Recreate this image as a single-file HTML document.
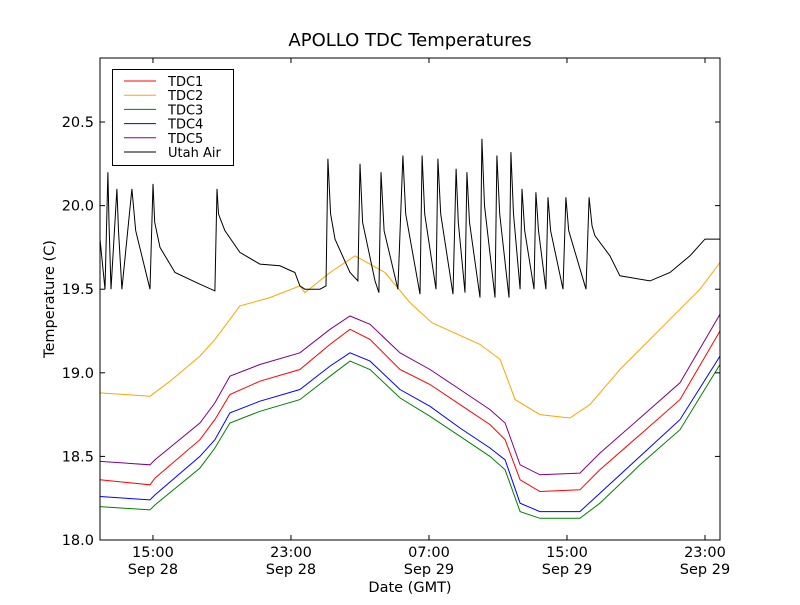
<!DOCTYPE html>
<html><head><meta charset="utf-8"><style>
body{margin:0;background:#fff}
svg text{font-family:"DejaVu Sans","Liberation Sans",sans-serif;fill:#000}
</style></head><body>
<svg id="c" width="800" height="600" xmlns="http://www.w3.org/2000/svg">
<rect width="800" height="600" fill="#fff"/>
<text x="410" y="46" font-size="18" text-anchor="middle">APOLLO TDC Temperatures</text>
<text x="410" y="592" font-size="14.5" text-anchor="middle">Date (GMT)</text>
<text transform="translate(54,299) rotate(-90)" font-size="14.5" text-anchor="middle">Temperature (C)</text>
<g id="series"></g>
<g id="axes"></g>
<g id="legend"></g>
</svg>
<script>
const xTicks=[15,23,31,39,47];
const xTickLabels=[["15:00","Sep 28"],["23:00","Sep 28"],["07:00","Sep 29"],["15:00","Sep 29"],["23:00","Sep 29"]];
const yTicks=[18.0,18.5,19.0,19.5,20.0,20.5];
const seriesNames=["TDC1","TDC2","TDC3","TDC4","TDC5","Utah Air"];
const tHours=[11.93,14.83,15.12,17.72,18.59,19.46,21.2,23.52,25.26,26.42,27.58,29.32,31.06,32.8,34.54,35.41,36.28,37.43,39.75,40.91,43.23,45.55,47.87];
const tdc1=[18.36,18.33,18.37,18.6,18.72,18.87,18.95,19.02,19.17,19.26,19.2,19.02,18.93,18.81,18.69,18.6,18.36,18.29,18.3,18.42,18.63,18.84,19.25];
const tdc5=[18.47,18.45,18.48,18.7,18.82,18.98,19.05,19.12,19.26,19.34,19.29,19.12,19.02,18.9,18.78,18.7,18.45,18.39,18.4,18.52,18.73,18.94,19.35];
const tdc4=[18.26,18.24,18.27,18.5,18.6,18.76,18.83,18.9,19.04,19.12,19.07,18.9,18.8,18.67,18.55,18.48,18.22,18.17,18.17,18.28,18.5,18.72,19.1];
const tdc3=[18.2,18.18,18.21,18.43,18.55,18.7,18.77,18.84,18.98,19.07,19.02,18.85,18.74,18.62,18.5,18.42,18.17,18.13,18.13,18.22,18.45,18.66,19.05];
const oHours=[11.93,14.83,15.99,17.72,18.59,20.04,21.78,23.52,23.81,25.26,26.71,28.45,29.9,31.17,33.96,35.12,35.99,37.43,39.17,40.33,42.07,44.39,46.71,47.87];
const tdc2=[18.88,18.86,18.95,19.1,19.2,19.4,19.45,19.52,19.48,19.6,19.7,19.6,19.42,19.3,19.17,19.08,18.84,18.75,18.73,18.81,19.02,19.26,19.5,19.66];
const aHours=[11.93,12.22,12.39,12.45,12.57,12.91,13.0,13.2,13.78,14.0,14.83,15.0,15.1,15.41,16.28,17.72,18.59,18.71,18.8,19.17,20.04,21.2,22.36,23.23,23.52,23.81,24.68,25.03,25.14,25.3,25.55,26.42,26.88,27.0,27.15,27.87,28.1,28.22,28.4,29.2,29.49,29.65,30.48,30.6,30.75,31.41,31.52,31.68,32.39,32.57,32.7,33.09,33.2,33.35,33.96,34.07,34.22,34.83,34.94,35.1,35.64,35.75,35.9,36.28,36.39,36.55,37.09,37.2,37.35,37.78,37.9,38.05,38.77,38.94,39.1,40.1,40.28,40.45,40.62,41.49,42.07,43.81,44.97,46.13,47.0,47.87];
const air=[19.8,19.5,20.2,19.9,19.5,20.1,19.85,19.5,20.1,19.85,19.5,20.13,19.9,19.75,19.6,19.53,19.49,20.1,19.95,19.85,19.72,19.65,19.64,19.6,19.52,19.5,19.5,19.52,20.28,19.95,19.8,19.6,19.55,20.25,19.9,19.55,19.48,20.2,19.85,19.5,20.3,19.95,19.47,20.3,19.95,19.5,20.28,19.95,19.47,20.22,19.9,19.48,20.2,19.9,19.45,20.4,20.0,19.45,20.3,19.95,19.45,20.32,19.95,19.5,20.1,19.85,19.5,20.08,19.85,19.5,20.05,19.85,19.5,20.05,19.85,19.5,20.05,19.88,19.82,19.7,19.58,19.55,19.6,19.7,19.8,19.8];

const L=100,R=720,T=58,B=540,h0=11.93,h1=47.87,v0=18.0,v1=20.883;
const X=h=>L+(h-h0)/(h1-h0)*(R-L);
const Y=v=>B-(v-v0)/(v1-v0)*(B-T);
const NS="http://www.w3.org/2000/svg";
function mk(tag,attrs,parent){const e=document.createElementNS(NS,tag);for(const k in attrs)e.setAttribute(k,attrs[k]);parent.appendChild(e);return e;}
const sg=document.getElementById('series');
const defs=[[tHours,tdc1,"#ff0000","tdc1-line"],[oHours,tdc2,"#ffa500","tdc2-line"],[tHours,tdc3,"#008000","tdc3-line"],[tHours,tdc4,"#0000ff","tdc4-line"],[tHours,tdc5,"#800080","tdc5-line"],[aHours,air,"#000000","utah-air-line"]];
defs.forEach(d=>{
  const pts=d[0].map((h,i)=>X(h).toFixed(1)+","+Y(d[1][i]).toFixed(1)).join(" ");
  const p=mk('polyline',{points:pts,fill:"none",stroke:d[2],"stroke-width":1},sg);
  
  
});
const ax=document.getElementById('axes');
const frame=mk('rect',{x:L,y:T,width:R-L,height:B-T,fill:"none",stroke:"#000","stroke-width":1},ax);


xTicks.forEach((h,i)=>{
  const x=X(h);
  mk('line',{x1:x,y1:B,x2:x,y2:B-5,stroke:"#000"},ax);
  mk('line',{x1:x,y1:T,x2:x,y2:T+5,stroke:"#000"},ax);
  const t=mk('text',{x:x,y:B+17,"font-size":14.5,"text-anchor":"middle"},ax);
  t.textContent=xTickLabels[i][0];
  
  
  const t2=mk('text',{x:x,y:B+34,"font-size":14.5,"text-anchor":"middle"},ax);
  t2.textContent=xTickLabels[i][1];
  
  
});
yTicks.forEach(v=>{
  const y=Y(v);
  mk('line',{x1:L,y1:y,x2:L+5,y2:y,stroke:"#000"},ax);
  mk('line',{x1:R,y1:y,x2:R-5,y2:y,stroke:"#000"},ax);
  const t=mk('text',{x:L-6,y:y+5,"font-size":14.5,"text-anchor":"end"},ax);
  t.textContent=v.toFixed(1);
  
  
});
const lg=document.getElementById('legend');
mk('rect',{x:112.5,y:69.5,width:121,height:96,fill:"#fff",stroke:"#000","stroke-width":1},lg);
seriesNames.forEach((n,i)=>{
  const y=81+i*14.2;
  mk('line',{x1:124,y1:y,x2:156,y2:y,stroke:defs[i][2],"stroke-width":1},lg);
  const t=mk('text',{x:168,y:y+5,"font-size":13},lg);
  t.textContent=n;
  
  
});
</script>
</body></html>
